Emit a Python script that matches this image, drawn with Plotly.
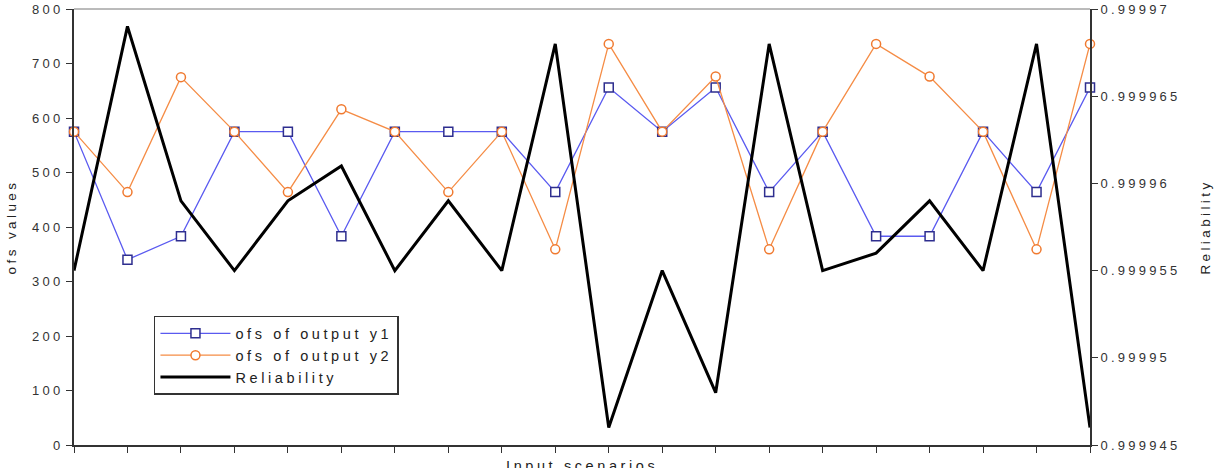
import plotly.graph_objects as go

scenarios = list(range(1, 21))
ofs_y1 = [575, 340, 383, 575, 575, 383, 575, 575, 575, 464,
          656, 575, 656, 464, 575, 383, 383, 575, 464, 656]
ofs_y2 = [575, 464, 675, 575, 464, 616, 575, 464, 575, 359,
          736, 575, 676, 359, 575, 736, 676, 575, 359, 736]
reliability = [0.999955, 0.999969, 0.999959, 0.999955, 0.999959, 0.999961, 0.999955, 0.999959,
               0.999955, 0.999968, 0.999946, 0.999955, 0.999948, 0.999968, 0.999955, 0.999956,
               0.999959, 0.999955, 0.999968, 0.999946]
left_ticks = [0, 100, 200, 300, 400, 500, 600, 700, 800]
right_ticks = [0.999945, 0.99995, 0.999955, 0.99996, 0.999965, 0.99997]
right_tick_labels = ["0.999945", "0.99995", "0.999955", "0.99996", "0.999965", "0.99997"]
x_title = "Input scenarios"

LS = 3.2


def sp(t, ls=LS):
    return f"<span style='letter-spacing:{ls}px'>{t}</span>"


FONT = "Liberation Sans, Arial, sans-serif"
AX = "#333333"

fig = go.Figure()
fig.add_trace(go.Scatter(
    x=scenarios, y=ofs_y1, name=sp("ofs of output y1", 3.6), mode="lines+markers",
    line=dict(color="#5a5af0", width=1.3),
    marker=dict(symbol="square", size=9, color="white", line=dict(color="#2e2e8f", width=1.5)),
    cliponaxis=False,
))
fig.add_trace(go.Scatter(
    x=scenarios, y=ofs_y2, name=sp("ofs of output y2", 3.6), mode="lines+markers",
    line=dict(color="#f58c45", width=1.3),
    marker=dict(symbol="circle", size=9, color="white", line=dict(color="#f07a30", width=1.5)),
    cliponaxis=False,
))
fig.add_trace(go.Scatter(
    x=scenarios, y=reliability, name=sp("Reliability", 3.6), mode="lines",
    line=dict(color="black", width=3), yaxis="y2", cliponaxis=False,
))

fig.update_layout(
    width=1218, height=468,
    margin=dict(l=74, r=128, t=9, b=23, autoexpand=False),
    paper_bgcolor="white", plot_bgcolor="white",
    font=dict(family=FONT, size=13, color="#333333"),
    showlegend=True,
    legend=dict(
        x=0.0787, y=0.296, xanchor="left", yanchor="top",
        bgcolor="white", bordercolor="#333333", borderwidth=1.5,
        font=dict(family=FONT, size=14.5, color="#222222"),
        itemwidth=70, tracegroupgap=0,
    ),
    xaxis=dict(
        range=[1, 20], tickvals=scenarios, showticklabels=False, automargin=False,
        ticks="outside", ticklen=6, tickcolor=AX, tickwidth=1.3,
        showline=True, linecolor=AX, linewidth=2, showgrid=False, zeroline=False,
    ),
    yaxis=dict(
        range=[0, 800], tickvals=left_ticks, ticktext=[sp(str(v)) for v in left_ticks],
        automargin=False,
        ticks="outside", ticklen=6, tickcolor=AX, tickwidth=1.3,
        showline=True, linecolor=AX, linewidth=2, showgrid=False, zeroline=False,
        tickfont=dict(size=13, color="#333333"),
        title=dict(text=sp("ofs values", 3.4), standoff=12, font=dict(size=13.5, color="#222222")),
    ),
    yaxis2=dict(
        overlaying="y", side="right", automargin=False,
        range=[0.999945, 0.99997], tickvals=right_ticks, ticktext=[sp(t) for t in right_tick_labels],
        ticks="outside", ticklen=6, tickcolor=AX, tickwidth=1.3,
        showline=True, linecolor=AX, linewidth=2, showgrid=False, zeroline=False,
        tickfont=dict(size=13, color="#333333"),
        title=dict(text=sp("Reliability", 3.4), standoff=21, font=dict(size=13.5, color="#222222")),
    ),
    shapes=[dict(type="line", xref="paper", yref="paper", x0=0, x1=1, y0=1, y1=1,
                 line=dict(color="#777777", width=1))],
    annotations=[dict(text=sp(x_title, 3.6), xref="paper", yref="paper", x=0.5, y=0,
                      xanchor="center", yanchor="top", yshift=-11, showarrow=False,
                      font=dict(family=FONT, size=14.5, color="#222222"))],
)

fig.write_html("out.html")
